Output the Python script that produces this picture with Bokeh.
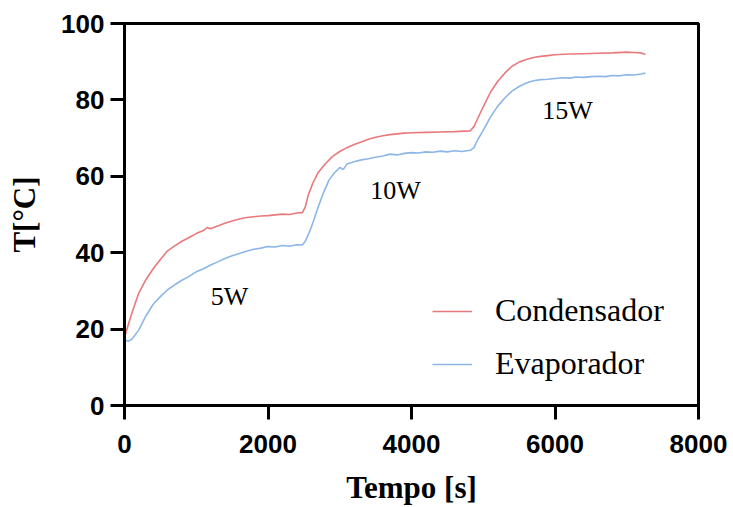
from bokeh.plotting import figure
from bokeh.models import Range1d, Legend, LegendItem, FixedTicker, ColumnDataSource
from bokeh.core.properties import value
from bokeh.embed import file_html
from bokeh.resources import INLINE

# ---- data ----
t_cond = [0, 50, 100, 200, 300, 400, 500, 600, 700, 800, 900, 1000, 1100, 1150, 1200,
          1300, 1400, 1500, 1600, 1700, 1800, 1900, 2000, 2100, 2200, 2300, 2400, 2480,
          2520, 2560, 2620, 2700, 2800, 2900, 3000, 3100, 3200, 3300, 3400, 3500, 3600,
          3700, 3800, 3900, 4000, 4200, 4400, 4600, 4820, 4870, 4920, 5000, 5100, 5200,
          5300, 5400, 5500, 5600, 5700, 5800, 5900, 6000, 6200, 6400, 6600, 6800, 7000,
          7100, 7200, 7260]
T_cond = [17.8, 21.0, 24.0, 29.5, 33.0, 35.8, 38.2, 40.5, 41.8, 43.0, 44.0, 45.0, 45.8, 46.6, 46.3,
          47.0, 47.7, 48.3, 48.8, 49.2, 49.4, 49.6, 49.7, 49.9, 50.1, 50.0, 50.4, 50.5,
          52.0, 55.0, 58.0, 61.0, 63.3, 65.2, 66.5, 67.5, 68.3, 69.0, 69.7, 70.2, 70.6,
          70.9, 71.1, 71.3, 71.4, 71.5, 71.6, 71.7, 71.9, 73.0, 75.0, 78.2, 82.0, 84.8,
          87.0, 88.8, 89.9, 90.6, 91.1, 91.4, 91.6, 91.8, 92.0, 92.1, 92.2, 92.3, 92.5,
          92.4, 92.3, 91.9]

t_evap = [0, 50, 100, 200, 300, 400, 500, 600, 700, 800, 900, 1000, 1100, 1200, 1300,
          1400, 1500, 1600, 1700, 1800, 1900, 2000, 2100, 2200, 2300, 2400, 2480, 2520,
          2580, 2640, 2700, 2780, 2850, 2920, 3000, 3050, 3100, 3200, 3300, 3400, 3500,
          3600, 3700, 3800, 3900, 4000, 4100, 4200, 4300, 4400, 4500, 4600, 4700, 4820,
          4870, 4920, 5000, 5100, 5200, 5300, 5400, 5500, 5600, 5700, 5800, 5900, 6000,
          6100, 6200, 6300, 6400, 6500, 6600, 6700, 6800, 6900, 7000, 7100, 7200, 7260]
T_evap = [17.2, 16.8, 17.3, 19.8, 23.5, 26.5, 28.5, 30.3, 31.6, 32.8, 33.8, 35.0, 35.8, 36.8, 37.6,
          38.5, 39.2, 39.8, 40.4, 40.9, 41.2, 41.6, 41.5, 41.9, 41.7, 42.1, 42.0, 43.0,
          45.5, 48.6, 52.0, 56.0, 59.0, 60.8, 62.3, 61.8, 63.2, 63.8, 64.3, 64.6, 65.0,
          65.3, 65.8, 65.6, 66.0, 66.2, 66.1, 66.4, 66.3, 66.6, 66.4, 66.7, 66.5, 66.8,
          67.5, 69.5, 72.0, 75.5, 78.3, 80.5, 82.3, 83.5, 84.4, 85.0, 85.3, 85.4, 85.6,
          85.8, 85.7, 86.0, 85.9, 86.1, 86.2, 86.1, 86.4, 86.3, 86.6, 86.5, 86.8, 87.0]

series_names = ["Condensador", "Evaporador"]
ann_text = ["5W", "10W", "15W"]
ann_x = [1463, 3777, 6174]
ann_y = [28.5, 56.4, 77.3]
x_ticks = [0, 2000, 4000, 6000, 8000]
y_ticks = [0, 20, 40, 60, 80, 100]

RED = "#E8797C"
BLUE = "#8DB6E8"

p = figure(width=733, height=507, output_backend="svg", toolbar_location=None,
           x_range=Range1d(0, 8000), y_range=Range1d(0, 100),
           min_border_left=124, min_border_right=35, min_border_top=23, min_border_bottom=101)
p.grid.visible = False
p.outline_line_color = "black"
p.outline_line_width = 3
p.background_fill_color = "white"
p.border_fill_color = "white"

for ax in (p.xaxis[0], p.yaxis[0]):
    ax.axis_line_width = 3
    ax.axis_line_color = "black"
    ax.major_tick_line_width = 3
    ax.major_tick_out = 14
    ax.major_tick_in = 0
    ax.minor_tick_out = 0
    ax.minor_tick_in = 0
    ax.major_label_text_font = "Liberation Sans"
    ax.major_label_text_font_style = "bold"
    ax.major_label_text_font_size = "26px"
    ax.major_label_text_color = "black"
    ax.axis_label_text_font = "Liberation Serif"
    ax.axis_label_text_font_style = "bold"
    ax.axis_label_text_font_size = "31px"
    ax.axis_label_text_color = "black"

p.xaxis[0].ticker = FixedTicker(ticks=x_ticks)
p.yaxis[0].ticker = FixedTicker(ticks=y_ticks)
p.xaxis[0].major_label_standoff = 15
p.yaxis[0].major_label_standoff = 6
p.xaxis[0].axis_label = "Tempo [s]"
p.yaxis[0].axis_label = "T[°C]"
p.xaxis[0].axis_label_standoff = 14
p.yaxis[0].axis_label_standoff = 16

r1 = p.line(t_cond, T_cond, line_color=RED, line_width=1.6)
r2 = p.line(t_evap, T_evap, line_color=BLUE, line_width=1.6)

src = ColumnDataSource(dict(x=ann_x, y=ann_y, text=ann_text))
p.text(x="x", y="y", text="text", source=src, text_font=value("Liberation Serif"),
       text_font_size="26px", text_align="center", text_baseline="alphabetic",
       text_color="black")

legend = Legend(items=[LegendItem(label=series_names[0], renderers=[r1]),
                       LegendItem(label=series_names[1], renderers=[r2])],
                location=(308, 23), padding=0, margin=0, spacing=16,
                glyph_width=40, glyph_height=36, label_height=36, label_standoff=23,
                label_text_font="Liberation Serif", label_text_font_size="32px",
                label_text_color="black", border_line_alpha=0, background_fill_alpha=0)
p.add_layout(legend)

open("out.html", "w").write(file_html(p, INLINE))
